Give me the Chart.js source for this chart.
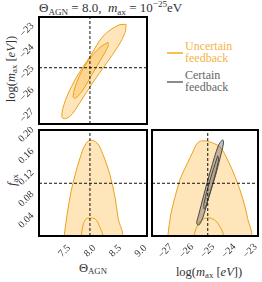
<!DOCTYPE html>
<html>
<head>
<meta charset="utf-8">
<script src="https://cdn.jsdelivr.net/npm/chart.js@4.4.0/dist/chart.umd.min.js"></script>
<style>
  html, body { margin:0; padding:0; background:#fff; }
  body { width:262px; height:282px; position:relative; overflow:hidden; font-family:"Liberation Serif", serif; color:#333; }
  canvas { position:absolute; }
  .t { position:absolute; white-space:nowrap; line-height:1; }
  sub { font-size:0.7em; vertical-align:-0.28em; line-height:0; }
  sup { font-size:0.7em; vertical-align:0.55em; line-height:0; }
  .rot { transform:translate(-50%,-50%) rotate(-90deg); }
  .ctr { transform:translate(-50%,-50%); }
  .sw { position:absolute; height:0; width:16px; }
</style>
</head>
<body>
<div class="t" style="left:39px; top:1px; font-size:13px;">&Theta;<sub>AGN</sub> = 8.0,&nbsp; <i>m</i><sub>ax</sub> = 10<sup>&minus;25</sup>eV</div>

<div class="t rot" style="left:11px; top:69px; font-size:12.5px;">log(<i>m</i><sub>ax</sub> [<i>eV</i>])</div>
<div class="t rot" style="left:12px; top:180px; font-size:12.5px;"><i>f</i><sub>ax</sub></div>
<div class="t ctr" style="left:93px; top:268px; font-size:12.5px;">&Theta;<sub>AGN</sub></div>
<div class="t ctr" style="left:209px; top:272px; font-size:12.5px;">log(<i>m</i><sub>ax</sub> [<i>eV</i>])</div>

<div class="sw" style="left:167px; top:52px; border-top:2px solid #f9bf55;"></div>
<div class="t" style="left:185px; top:40px; font-size:12px; color:#f5b443; line-height:12px;">Uncertain<br>feedback</div>
<div class="sw" style="left:167px; top:81px; border-top:2px solid #8c8c8c;"></div>
<div class="t" style="left:185px; top:69px; font-size:12px; color:#666; line-height:12px;">Certain<br>feedback</div>

<canvas id="cTL" width="150" height="127" style="left:0;top:0;"></canvas>
<canvas id="cBL" width="150" height="155" style="left:0;top:127px;"></canvas>
<canvas id="cBR" width="112" height="155" style="left:150px;top:127px;"></canvas>

<script>
// ---- truth values ----
const THETA_TRUE = 8.0;
const LOGM_TRUE = -25;
const F_TRUE = 0.1;

// ---- axis ranges and ticks ----
const THETA_RANGE = [7.0, 9.12];
const LOGM_RANGE = [-27.63, -22.63];
const F_RANGE = [0.002, 0.199];
const THETA_TICKS = [7.5, 8.0, 8.5, 9.0];
const LOGM_TICKS = [-27, -26, -25, -24, -23];
const F_TICKS = [0.04, 0.08, 0.12, 0.16, 0.20];

// ---- Uncertain feedback: theta vs logm ----
const unc_TM_outer_theta = [8.709, 8.552, 8.258, 8.002, 7.747, 7.550, 7.452, 7.472, 7.609, 7.805, 8.060, 8.336, 8.552, 8.690];
const unc_TM_outer_logm  = [-22.97, -23.02, -23.53, -24.47, -25.40, -26.34, -27.09, -27.37, -27.27, -26.62, -25.68, -24.75, -24.00, -23.35];
const unc_TM_inner_theta = [8.356, 8.198, 7.943, 7.747, 7.668, 7.707, 7.845, 8.041, 8.238, 8.356];
const unc_TM_inner_logm  = [-23.81, -24.05, -24.75, -25.64, -26.34, -26.43, -26.10, -25.31, -24.52, -24.00];

// ---- Uncertain feedback: theta vs f ----
const unc_TF_outer_theta = [7.491, 7.550, 7.628, 7.707, 7.805, 7.904, 8.002, 8.139, 8.258, 8.394, 8.494, 8.552, 8.611];
const unc_TF_outer_f     = [0.0, 0.041, 0.084, 0.115, 0.147, 0.171, 0.180, 0.175, 0.153, 0.115, 0.073, 0.035, 0.0];
const unc_TF_inner_theta = [7.825, 7.864, 7.924, 8.002, 8.100, 8.179, 8.238];
const unc_TF_inner_f     = [0.0, 0.022, 0.034, 0.035, 0.034, 0.022, 0.0];

// ---- Uncertain feedback: logm vs f ----
const unc_MF_outer_logm = [-26.89, -26.75, -26.52, -26.28, -25.95, -25.71, -25.48, -25.19, -24.77, -24.39, -24.02, -23.69, -23.36, -23.12, -23.02];
const unc_MF_outer_f    = [0.0, 0.041, 0.078, 0.110, 0.138, 0.158, 0.175, 0.179, 0.175, 0.166, 0.140, 0.110, 0.073, 0.035, 0.0];
const unc_MF_inner_logm = [-25.67, -25.48, -25.19, -24.86, -24.53, -24.30];
const unc_MF_inner_f    = [0.0, 0.022, 0.034, 0.035, 0.026, 0.0];

// ---- Certain feedback: logm vs f ----
const cer_MF_outer_logm = [-24.30, -24.49, -24.86, -25.19, -25.43, -25.52, -25.43, -25.24, -24.96, -24.63, -24.35, -24.25];
const cer_MF_outer_f    = [0.181, 0.171, 0.125, 0.078, 0.041, 0.026, 0.022, 0.035, 0.073, 0.115, 0.158, 0.177];
const cer_MF_inner_logm = [-24.53, -24.72, -25.00, -25.19, -25.15, -24.96, -24.72, -24.49];
const cer_MF_inner_f    = [0.151, 0.128, 0.091, 0.060, 0.052, 0.073, 0.106, 0.143];

// ---- styles ----
const ORANGE_EDGE = '#eaa21e';
const ORANGE_FILL = 'rgba(251,183,64,0.36)';
const NO_FILL = 'rgba(0,0,0,0)';
const GRAY_EDGE = '#4a4a4a';
const GRAY_FILL = 'rgba(70,70,70,0.33)';
const GRAY_FILL_IN = 'rgba(70,70,70,0.12)';
const TICK_FONT_CSS = '10px "Liberation Serif"';

function closed(xs, ys) {
  const pts = xs.map((x, i) => ({ x: x, y: ys[i] }));
  pts.push({ x: xs[0], y: ys[0] });
  return pts;
}
function contour(xs, ys, edge, fill) {
  return { data: closed(xs, ys), showLine: true, borderColor: edge, backgroundColor: fill,
           borderWidth: 1, pointRadius: 0, fill: 'shape', tension: 0.35 };
}
function vline(x, range) {
  return { data: [{ x: x, y: range[0] }, { x: x, y: range[1] }], showLine: true, borderColor: '#111',
           borderWidth: 1, borderDash: [3, 2], pointRadius: 0, fill: false, tension: 0 };
}
function hline(y, range) {
  return { data: [{ x: range[0], y: y }, { x: range[1], y: y }], showLine: true, borderColor: '#111',
           borderWidth: 1, borderDash: [3, 2], pointRadius: 0, fill: false, tension: 0 };
}
const fmtM = v => (v < 0 ? '\u2212' + Math.abs(v) : String(v));
const fmtT = v => v.toFixed(1);
const fmtF = v => v.toFixed(2);

const frame = {
  id: 'frame',
  afterDraw(chart) {
    const a = chart.chartArea, ctx = chart.ctx;
    ctx.save();
    ctx.strokeStyle = '#000';
    ctx.lineWidth = 2;
    ctx.strokeRect(a.left, a.top, a.right - a.left, a.bottom - a.top);
    ctx.restore();
  }
};

// rotated (45 deg) tick labels placed at the library's tick positions
const tickLabels = {
  id: 'tickLabels',
  afterDraw(chart, args, opts) {
    const ctx = chart.ctx, a = chart.chartArea;
    ctx.save();
    ctx.font = TICK_FONT_CSS;
    ctx.fillStyle = '#333';
    ctx.textAlign = 'center';
    ctx.textBaseline = 'middle';
    const c = Math.SQRT1_2;
    if (opts.xFmt) {
      const s = chart.scales.x;
      s.ticks.forEach(t => {
        const px = s.getPixelForValue(t.value);
        ctx.save();
        ctx.translate(px, a.bottom + 15);
        ctx.rotate(-Math.PI / 4);
        ctx.fillText(opts.xFmt(t.value), 0, 0);
        ctx.restore();
      });
    }
    if (opts.yFmt) {
      const s = chart.scales.y;
      s.ticks.forEach(t => {
        const py = s.getPixelForValue(t.value);
        const label = opts.yFmt(t.value);
        const w = ctx.measureText(label).width, h = 7;
        const bw = (w + h) * c;
        ctx.save();
        ctx.translate(a.left - 4 - bw / 2, py + opts.yShift);
        ctx.rotate(-Math.PI / 4);
        ctx.fillText(label, 0, 0);
        ctx.restore();
      });
    }
    ctx.restore();
  }
};

function axis(range, ticks, size, isX) {
  return {
    type: 'linear', min: range[0], max: range[1], display: true,
    grid: { display: false }, border: { display: false },
    ticks: { display: false, autoSkip: false },
    afterBuildTicks: s => { s.ticks = ticks.map(v => ({ value: v })); },
    afterFit: s => { if (isX) s.height = size; else s.width = size; }
  };
}

function make(id, datasets, xs, ys, padding, labelOpts) {
  return new Chart(document.getElementById(id), {
    type: 'scatter',
    data: { datasets: datasets },
    options: {
      responsive: false, animation: false, events: [],
      layout: { padding: padding },
      plugins: { legend: { display: false }, tooltip: { enabled: false }, title: { display: false },
                 tickLabels: labelOpts },
      scales: { x: xs, y: ys }
    },
    plugins: [frame, tickLabels]
  });
}

// Top-left: theta vs logm
make('cTL', [
  vline(THETA_TRUE, LOGM_RANGE),
  hline(LOGM_TRUE, THETA_RANGE),
  contour(unc_TM_inner_theta, unc_TM_inner_logm, ORANGE_EDGE, ORANGE_FILL),
  contour(unc_TM_outer_theta, unc_TM_outer_logm, ORANGE_EDGE, ORANGE_FILL)
],
  axis(THETA_RANGE, THETA_TICKS, 0, true),
  axis(LOGM_RANGE, LOGM_TICKS, 39, false),
  { top: 17, right: 3, bottom: 3, left: 0 },
  { yFmt: fmtM, yShift: 5 });

// Bottom-left: theta vs f
make('cBL', [
  vline(THETA_TRUE, F_RANGE),
  hline(F_TRUE, THETA_RANGE),
  contour(unc_TF_inner_theta, unc_TF_inner_f, ORANGE_EDGE, NO_FILL),
  contour(unc_TF_outer_theta, unc_TF_outer_f, ORANGE_EDGE, ORANGE_FILL)
],
  axis(THETA_RANGE, THETA_TICKS, 46, true),
  axis(F_RANGE, F_TICKS, 39, false),
  { top: 3, right: 3, bottom: 0, left: 0 },
  { xFmt: fmtT, yFmt: fmtF, yShift: 5 });

// Bottom-right: logm vs f
make('cBR', [
  vline(LOGM_TRUE, F_RANGE),
  hline(F_TRUE, LOGM_RANGE),
  contour(cer_MF_inner_logm, cer_MF_inner_f, GRAY_EDGE, GRAY_FILL_IN),
  contour(cer_MF_outer_logm, cer_MF_outer_f, GRAY_EDGE, GRAY_FILL),
  contour(unc_MF_inner_logm, unc_MF_inner_f, ORANGE_EDGE, NO_FILL),
  contour(unc_MF_outer_logm, unc_MF_outer_f, ORANGE_EDGE, ORANGE_FILL)
],
  axis(LOGM_RANGE, LOGM_TICKS, 46, true),
  { type: 'linear', min: F_RANGE[0], max: F_RANGE[1], display: false },
  { top: 3, right: 4, bottom: 0, left: 2 },
  { xFmt: fmtM });
</script>
</body>
</html>
